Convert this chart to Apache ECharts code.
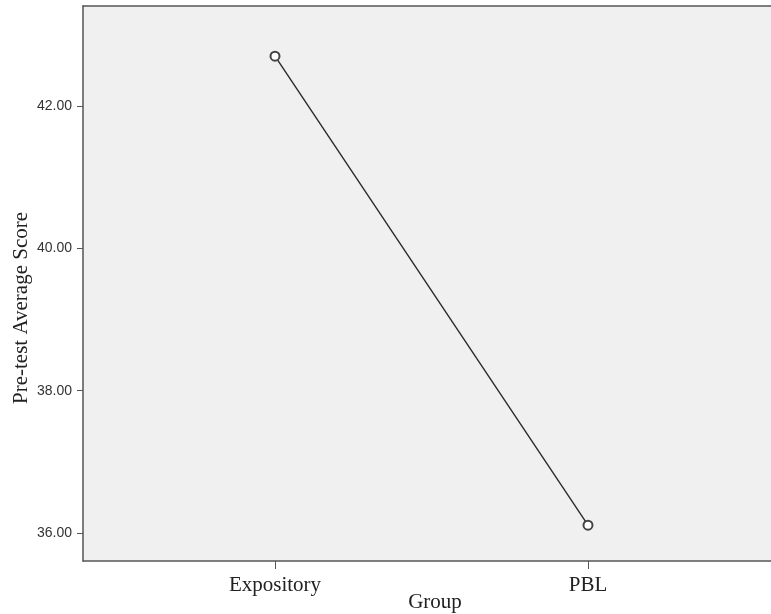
<!DOCTYPE html>
<html>
<head>
<meta charset="utf-8">
<script src="https://cdn.jsdelivr.net/npm/echarts@6/dist/echarts.min.js"></script>
<style>html,body{margin:0;padding:0;background:#fff}#c{width:771px;height:614px}</style>
</head>
<body>
<div id="c"></div>
<script>
var categories = ['Expository', 'PBL'];
var scores = [42.70, 36.11];
var yTicks = [36, 38, 40, 42];
var xTitle = 'Group';
var yTitle = 'Pre-test Average Score';

var chart = echarts.init(document.getElementById('c'));
var points = categories.map(function (c, i) { return [i, scores[i]]; });
var serif = '"Liberation Serif", "Times New Roman", serif';
var sans = '"Liberation Sans", Arial, sans-serif';
var xMin = -0.6134, xMax = 1.5847;

chart.setOption({
  animation: false,
  backgroundColor: '#ffffff',
  grid: {
    left: 83, top: 6, right: 0, bottom: 53,
    show: true, backgroundColor: '#f0f0f0', borderWidth: 0
  },
  xAxis: [{
    type: 'value',
    min: xMin, max: xMax,
    splitLine: { show: false },
    axisLine: { show: true, onZero: false, lineStyle: { color: '#555', width: 1.5 } },
    axisTick: { show: true, length: 8, customValues: [0, 1], lineStyle: { color: '#555', width: 1 } },
    axisLabel: {
      customValues: [0, 1],
      formatter: function (v) { return categories[Math.round(v)] || ''; },
      fontFamily: serif, fontSize: 21, color: '#222', margin: 14
    }
  }, {
    type: 'value', position: 'top',
    min: xMin, max: xMax,
    splitLine: { show: false },
    axisLine: { show: true, onZero: false, lineStyle: { color: '#555', width: 1.5 } },
    axisTick: { show: false },
    axisLabel: { show: false }
  }],
  yAxis: {
    type: 'value',
    min: 35.607, max: 43.405,
    splitLine: { show: false },
    axisLine: { show: true, onZero: false, lineStyle: { color: '#555', width: 1.5 } },
    axisTick: { show: true, length: 6, customValues: yTicks, lineStyle: { color: '#555', width: 1 } },
    axisLabel: {
      customValues: yTicks,
      formatter: function (v) { return v.toFixed(2); },
      fontFamily: sans, fontSize: 14, color: '#333', margin: 11
    }
  },
  graphic: [
    {
      type: 'text', x: 435, y: 602,
      style: { text: xTitle, font: '21px ' + serif, fill: '#222', textAlign: 'center', textVerticalAlign: 'middle' }
    },
    {
      type: 'text', x: 21, y: 308, rotation: Math.PI / 2,
      style: { text: yTitle, font: '21px ' + serif, fill: '#222', textAlign: 'center', textVerticalAlign: 'middle' }
    }
  ],
  series: [{
    type: 'line',
    xAxisIndex: 0,
    data: points,
    symbol: 'emptyCircle',
    symbolSize: 9,
    lineStyle: { color: '#2a2a2a', width: 1.4 },
    itemStyle: { color: '#444', borderColor: '#444', borderWidth: 1.3 }
  }]
});
</script>
</body>
</html>
